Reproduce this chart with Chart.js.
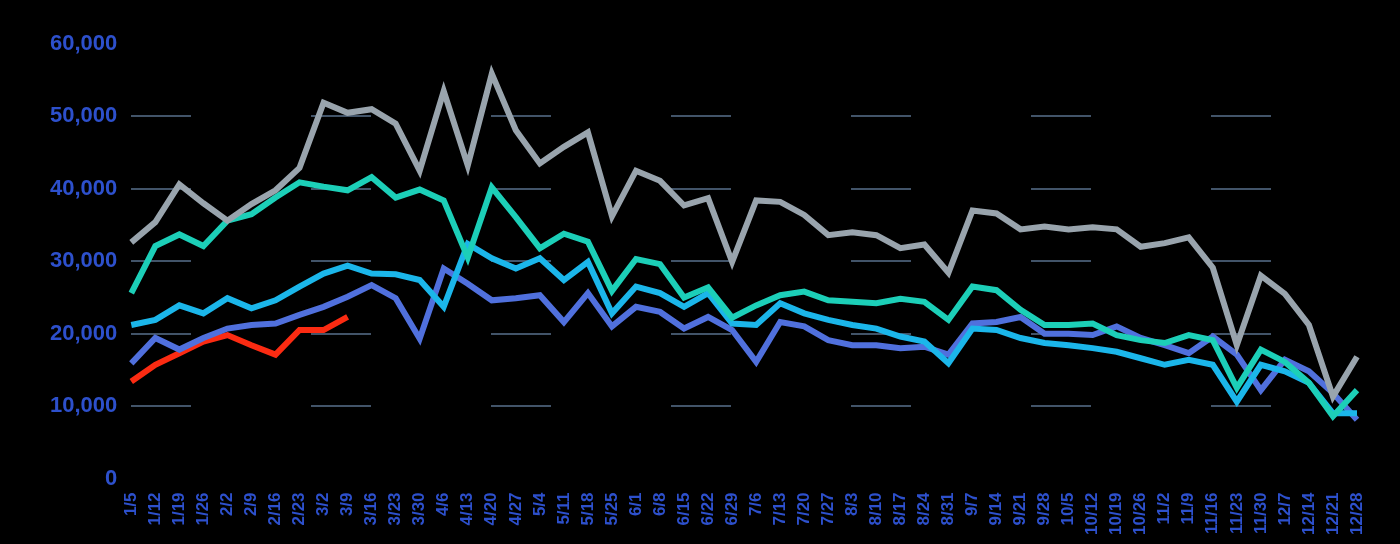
<!DOCTYPE html>
<html>
<head>
<meta charset="utf-8">
<script src="https://cdn.jsdelivr.net/npm/chart.js@4"></script>
<style>
  html, body { margin: 0; padding: 0; background: #000; }
  #wrap { width: 1400px; height: 544px; }
</style>
</head>
<body>
<div id="wrap"><canvas id="grafico"></canvas></div>
<script>
// Semanas del año (eje X)
const semanas = ['1/5','1/12','1/19','1/26','2/2','2/9','2/16','2/23','3/2','3/9',
  '3/16','3/23','3/30','4/6','4/13','4/20','4/27','5/4','5/11','5/18',
  '5/25','6/1','6/8','6/15','6/22','6/29','7/6','7/13','7/20','7/27',
  '8/3','8/10','8/17','8/24','8/31','9/7','9/14','9/21','9/28','10/5',
  '10/12','10/19','10/26','11/2','11/9','11/16','11/23','11/30','12/7','12/14',
  '12/21','12/28'];

// Valores por serie
const serieGris = [32600,35400,40600,38000,35600,37900,39800,42900,51900,50500,
  51000,49000,42500,53500,43200,55900,48100,43500,45800,47800,
  36200,42500,41100,37700,38700,29900,38400,38200,36400,33600,
  34000,33600,31800,32300,28400,37000,36600,34400,34800,34400,
  34700,34400,32000,32500,33300,29100,18400,28000,25500,21200,
  11300,16800];
const serieTurquesa = [25600,32100,33700,32100,35600,36500,38800,40900,40300,39800,
  41600,38800,39900,38400,30500,40200,36100,31800,33800,32700,
  25900,30300,29600,25000,26400,22200,23900,25300,25800,24600,
  24400,24200,24800,24400,21900,26500,26000,23300,21200,21200,
  21400,19800,19100,18700,19800,19100,12500,17800,16100,13200,
  8600,12200];
const serieCeleste = [21200,21900,23900,22800,24900,23500,24600,26500,28300,29400,
  28300,28200,27400,23700,32400,30400,29000,30400,27400,29900,
  22800,26500,25600,23700,25600,21400,21200,24200,22800,21900,
  21200,20700,19600,18900,15900,20700,20500,19400,18700,18400,
  18000,17500,16600,15700,16400,15700,10600,15700,14800,13200,
  9000,9000];
const serieAzul = [15900,19400,17800,19400,20700,21200,21400,22600,23700,25100,
  26700,24900,19300,29000,26900,24600,24900,25300,21600,25600,
  21000,23700,23000,20700,22300,20500,16100,21600,21000,19100,
  18400,18400,18000,18200,17100,21400,21600,22300,20000,20000,
  19800,21000,19400,18400,17300,19600,17100,12200,16400,14800,
  11800,8100];
const serieRoja = [13400,15700,17300,18900,19800,18400,17100,20500,20500,22300];

const ticksY = [0, 10000, 20000, 30000, 40000, 50000, 60000];

const azulTexto = '#2d50cc';

const ctx = document.getElementById('grafico').getContext('2d');

const datos = {
  labels: semanas,
  datasets: [
    { label: 'Gris', data: serieGris, borderColor: '#99a4ad' },
    { label: 'Turquesa', data: serieTurquesa, borderColor: '#1ccfb8' },
    { label: 'Celeste', data: serieCeleste, borderColor: '#1bb6ea' },
    { label: 'Azul', data: serieAzul, borderColor: '#5070dd' },
    { label: 'Roja', data: serieRoja, borderColor: '#fb2b12' }
  ].map(d => Object.assign(d, {
    borderWidth: 6,
    pointRadius: 0,
    tension: 0,
    fill: false,
    borderJoinStyle: 'miter'
  }))
};

new Chart(ctx, {
  type: 'line',
  data: datos,
  options: {
    responsive: true,
    maintainAspectRatio: false,
    animation: false,
    layout: { padding: { left: 36, right: 43, top: 44, bottom: 3 } },
    plugins: {
      legend: { display: false },
      tooltip: { enabled: false }
    },
    scales: {
      x: {
        offset: false,
        grid: { display: false },
        border: { display: false },
        ticks: {
          autoSkip: false,
          minRotation: 90,
          maxRotation: 90,
          padding: 6,
          color: azulTexto,
          font: { family: 'Liberation Sans', weight: 'bold', size: 17 }
        }
      },
      y: {
        min: 0,
        max: 60000,
        afterBuildTicks: axis => { axis.ticks = ticksY.map(v => ({ value: v })); },
        border: { display: false, dash: [60, 120] },
        grid: {
          // sin línea en 0 ni en 60.000, como en el original
          color: c => (c.tick && (c.tick.value === 0 || c.tick.value === 60000))
            ? 'rgba(0,0,0,0)' : 'rgba(110,140,175,0.6)',
          lineWidth: 2,
          drawTicks: false
        },
        ticks: {
          padding: 14,
          color: azulTexto,
          font: { family: 'Liberation Sans', weight: 'bold', size: 22 },
          callback: v => v.toLocaleString('en-US')
        }
      }
    }
  }
});
</script>
</body>
</html>
